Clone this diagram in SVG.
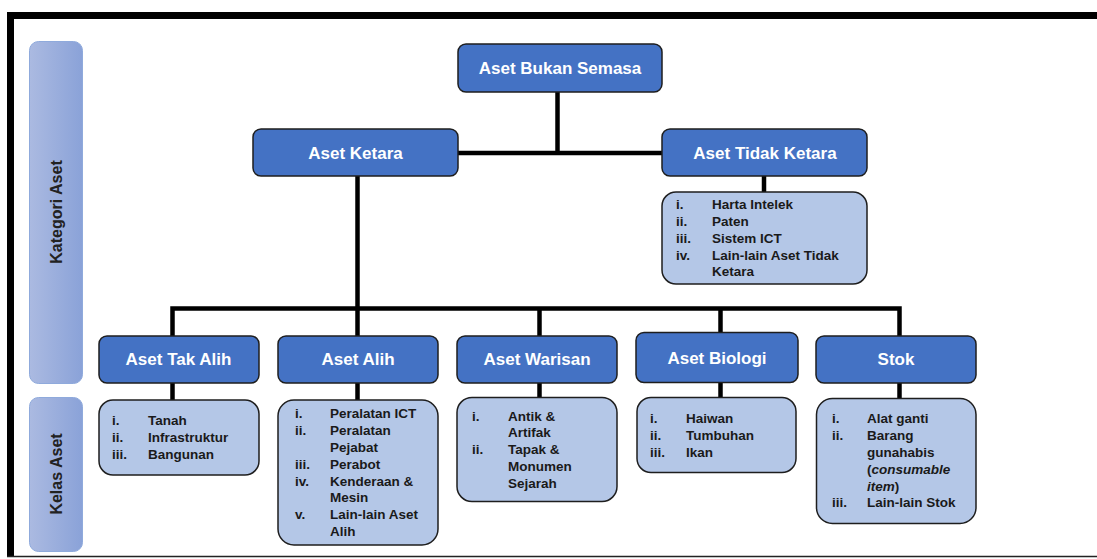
<svg xmlns="http://www.w3.org/2000/svg" width="1097" height="559" viewBox="0 0 1097 559">
<defs>
<linearGradient id="side" x1="0" y1="0" x2="1" y2="0">
<stop offset="0" stop-color="#abbae1"/>
<stop offset="1" stop-color="#8aa2d8"/>
</linearGradient>
<style>
.hdr{fill:#4472c4;stroke:#1e1e1e;stroke-width:1.5}
.lst{fill:#b4c7e7;stroke:#1e1e1e;stroke-width:1.5}
.side{fill:url(#side);stroke:#8faadc;stroke-width:1}
.ht{font-family:"Liberation Sans",Arial,sans-serif;font-weight:bold;font-size:17px;fill:#ffffff;text-anchor:middle}
.lt{font-family:"Liberation Sans",Arial,sans-serif;font-weight:bold;font-size:13.5px;fill:#1a1a1a}
.st{font-family:"Liberation Sans",Arial,sans-serif;font-weight:bold;font-size:16px;fill:#222222;text-anchor:middle}
.con{fill:none;stroke:#000000;stroke-width:4.5;stroke-linejoin:miter;stroke-linecap:butt}
</style>
</defs>
<rect x="0" y="0" width="1097" height="559" fill="#ffffff"/>
<g id="frame">
<path d="M7,15.5 H1097" stroke="#000" stroke-width="7" fill="none"/>
<path d="M10.5,12 V557" stroke="#000" stroke-width="7" fill="none"/>
<path d="M7,556.5 H1097" stroke="#222" stroke-width="1.5" fill="none"/>
</g>
<g id="side-kategori">
<rect class="side" x="29.5" y="41.5" width="53" height="342" rx="9"/>
<text class="st" transform="translate(62,212) rotate(-90)">Kategori Aset</text>
</g>
<g id="side-kelas">
<rect class="side" x="29.5" y="397.5" width="53" height="154" rx="9"/>
<text class="st" transform="translate(62,474) rotate(-90)">Kelas Aset</text>
</g>
<g id="connectors">
<path class="con" d="M557.5,92 V153"/>
<path class="con" d="M458,153 H662"/>
<path class="con" d="M764,176 V192"/>
<path class="con" d="M357.5,176 V336"/>
<path class="con" d="M172.5,336 V308.5 H899.5 V336"/>
<path class="con" d="M539.5,308.5 V336"/>
<path class="con" d="M720.5,308.5 V333"/>
<path class="con" d="M172.5,383 V400"/>
<path class="con" d="M357.5,383 V400"/>
<path class="con" d="M539.5,383 V398"/>
<path class="con" d="M720.5,383 V398"/>
<path class="con" d="M899.5,383 V399"/>
</g>
<g id="aset-bukan-semasa">
<rect class="hdr" x="458" y="44" width="204" height="48" rx="8"/>
<text class="ht" x="560" y="74">Aset Bukan Semasa</text>
</g>
<g id="aset-ketara">
<rect class="hdr" x="253" y="129" width="205" height="47" rx="8"/>
<text class="ht" x="355.5" y="159">Aset Ketara</text>
</g>
<g id="aset-tidak-ketara">
<rect class="hdr" x="662" y="129" width="205" height="47" rx="8"/>
<text class="ht" x="765" y="159">Aset Tidak Ketara</text>
</g>
<g id="list-tidak-ketara">
<rect class="lst" x="662" y="192" width="205" height="92" rx="14"/>
<text class="lt" x="676" y="208.5">i.</text><text class="lt" x="712" y="208.5">Harta Intelek</text>
<text class="lt" x="676" y="225.5">ii.</text><text class="lt" x="712" y="225.5">Paten</text>
<text class="lt" x="676" y="242.5">iii.</text><text class="lt" x="712" y="242.5">Sistem ICT</text>
<text class="lt" x="676" y="259.5">iv.</text><text class="lt" x="712" y="259.5">Lain-lain Aset Tidak</text>
<text class="lt" x="712" y="276">Ketara</text>
</g>
<g id="aset-tak-alih">
<rect class="hdr" x="99" y="336" width="160" height="47" rx="8"/>
<text class="ht" x="178.5" y="365">Aset Tak Alih</text>
</g>
<g id="list-tak-alih">
<rect class="lst" x="99" y="400" width="160" height="75" rx="14"/>
<text class="lt" x="112" y="424.5">i.</text><text class="lt" x="148" y="424.5">Tanah</text>
<text class="lt" x="112" y="441.5">ii.</text><text class="lt" x="148" y="441.5">Infrastruktur</text>
<text class="lt" x="112" y="458.5">iii.</text><text class="lt" x="148" y="458.5">Bangunan</text>
</g>
<g id="aset-alih">
<rect class="hdr" x="278" y="336" width="160" height="47" rx="8"/>
<text class="ht" x="358" y="365">Aset Alih</text>
</g>
<g id="list-alih">
<rect class="lst" x="278" y="400" width="160" height="145" rx="16"/>
<text class="lt" x="295" y="418">i.</text><text class="lt" x="330" y="418">Peralatan ICT</text>
<text class="lt" x="295" y="435">ii.</text><text class="lt" x="330" y="435">Peralatan</text>
<text class="lt" x="330" y="452">Pejabat</text>
<text class="lt" x="295" y="469">iii.</text><text class="lt" x="330" y="469">Perabot</text>
<text class="lt" x="295" y="485.5">iv.</text><text class="lt" x="330" y="485.5">Kenderaan &amp;</text>
<text class="lt" x="330" y="502">Mesin</text>
<text class="lt" x="295" y="519">v.</text><text class="lt" x="330" y="519">Lain-lain Aset</text>
<text class="lt" x="330" y="535.5">Alih</text>
</g>
<g id="aset-warisan">
<rect class="hdr" x="457" y="336" width="160" height="47" rx="8"/>
<text class="ht" x="537" y="365">Aset Warisan</text>
</g>
<g id="list-warisan">
<rect class="lst" x="457" y="397.5" width="160" height="104" rx="15"/>
<text class="lt" x="472" y="420.5">i.</text><text class="lt" x="508" y="420.5">Antik &amp;</text>
<text class="lt" x="508" y="437">Artifak</text>
<text class="lt" x="472" y="454">ii.</text><text class="lt" x="508" y="454">Tapak &amp;</text>
<text class="lt" x="508" y="471">Monumen</text>
<text class="lt" x="508" y="487.5">Sejarah</text>
</g>
<g id="aset-biologi">
<rect class="hdr" x="636" y="332.5" width="162" height="50" rx="8" stroke-width="2.5"/>
<text class="ht" x="717" y="364">Aset Biologi</text>
</g>
<g id="list-biologi">
<rect class="lst" x="637" y="397.5" width="159" height="75" rx="14"/>
<text class="lt" x="650" y="422.5">i.</text><text class="lt" x="686" y="422.5">Haiwan</text>
<text class="lt" x="650" y="439.5">ii.</text><text class="lt" x="686" y="439.5">Tumbuhan</text>
<text class="lt" x="650" y="456.5">iii.</text><text class="lt" x="686" y="456.5">Ikan</text>
</g>
<g id="stok">
<rect class="hdr" x="816" y="336" width="160" height="47" rx="8"/>
<text class="ht" x="896" y="365">Stok</text>
</g>
<g id="list-stok">
<rect class="lst" x="816.5" y="398.5" width="159.5" height="125" rx="16"/>
<text class="lt" x="832" y="423">i.</text><text class="lt" x="867" y="423">Alat ganti</text>
<text class="lt" x="832" y="440">ii.</text><text class="lt" x="867" y="440">Barang</text>
<text class="lt" x="867" y="457">gunahabis</text>
<text class="lt" x="867" y="474">(<tspan font-style="italic">consumable</tspan></text>
<text class="lt" x="867" y="490.5"><tspan font-style="italic">item</tspan>)</text>
<text class="lt" x="832" y="507">iii.</text><text class="lt" x="867" y="507">Lain-lain Stok</text>
</g>
</svg>
